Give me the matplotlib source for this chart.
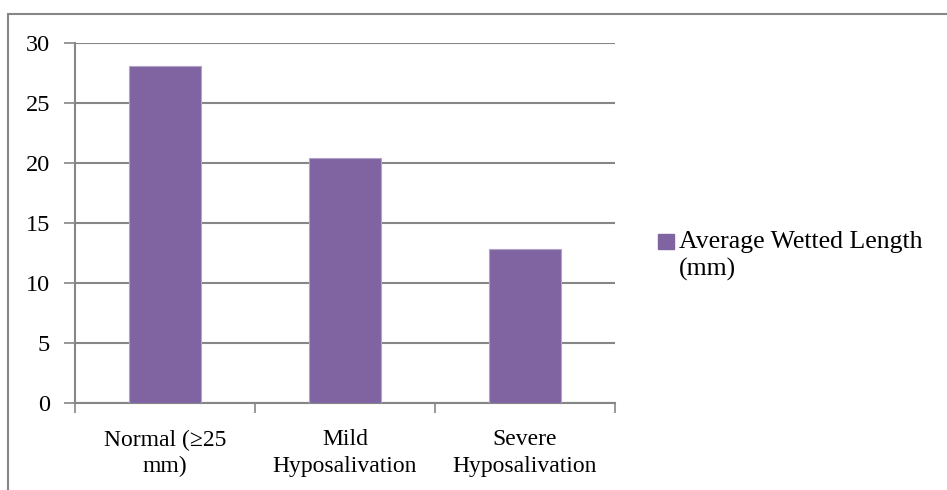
import matplotlib.pyplot as plt
from matplotlib.patches import Rectangle

# average wetted length per salivation group
categories = ["Normal (\u226525\nmm)", "Mild\nHyposalivation", "Severe\nHyposalivation"]
wetted_length = [28.1, 20.4, 12.8]
series_name = "Average Wetted Length\n(mm)"
y_ticks = [0, 5, 10, 15, 20, 25, 30]

plt.rcParams['font.family'] = ['Liberation Serif', 'DejaVu Serif']
plt.rcParams['font.size'] = 17.5

W, H = 947, 490
fig = plt.figure(figsize=(W / 100, H / 100), dpi=100)
ax = fig.add_axes([75 / W, 1 - 403 / H, 540 / W, 360 / H])

grey = '#868686'
bar_color = '#8064A2'
x = range(len(categories))
ax.bar(x, wetted_length, width=0.4, color=bar_color, edgecolor='#b3a2c7',
       linewidth=0.8, zorder=3)

ax.set_xlim(-0.5, len(categories) - 0.5)
ax.set_ylim(0, 30)
ax.set_yticks(y_ticks)
ax.yaxis.grid(True, color=grey, linewidth=1.5, zorder=0)
ax.set_axisbelow(True)

# category labels sit between the boundary ticks
ax.set_xticks([i - 0.5 for i in range(len(categories) + 1)])
ax.set_xticklabels([])
ax.set_xticks(list(x), minor=True)
ax.set_xticklabels(categories, minor=True, linespacing=1.35, fontsize=17)
ax.tick_params(axis='x', which='minor', length=0, pad=19)
ax.tick_params(axis='x', which='major', length=7, width=1.2, color=grey)
ax.tick_params(axis='y', length=8, width=1.2, color=grey, pad=10)

for side in ('top', 'right'):
    ax.spines[side].set_visible(False)
for side in ('left', 'bottom'):
    ax.spines[side].set_color(grey)
    ax.spines[side].set_linewidth(1.5)

# legend: swatch next to the first line of the series name
fig.add_artist(Rectangle((658 / W, 1 - 249 / H), 16 / W, 15 / H,
                         transform=fig.transFigure, color=bar_color))
fig.text(679 / W, 1 - 231 / H, series_name, fontsize=18.5, va='top',
         ha='left', linespacing=1.3)

# chart frame
fig.add_artist(Rectangle((8 / W, -0.1), 1.2, 1.1 - 14 / H,
                         transform=fig.transFigure, fill=False,
                         edgecolor=grey, linewidth=1.5))

fig.savefig('out.png', dpi=100)
